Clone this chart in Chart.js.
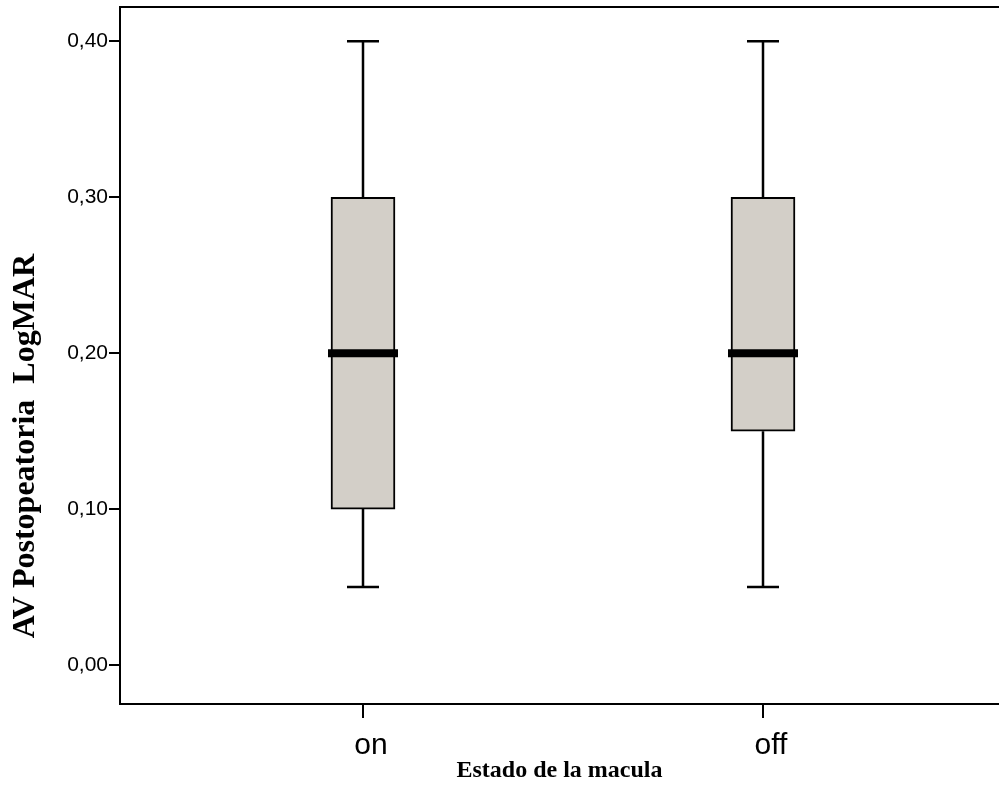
<!DOCTYPE html>
<html>
<head>
<meta charset="utf-8">
<script src="https://cdn.jsdelivr.net/npm/chart.js@4"></script>
<style>
  body { margin: 0; background: #fff; }
  #wrap { width: 999px; height: 793px; }
</style>
</head>
<body>
<div id="wrap"><canvas id="myChart" width="999" height="793"></canvas></div>
<script>
// box plot data
const categories = ['on', 'off'];
const mins = [0.05, 0.05];
const q1s = [0.10, 0.15];
const medians = [0.20, 0.20];
const q3s = [0.30, 0.30];
const maxs = [0.40, 0.40];
const yTicks = [0, 0.1, 0.2, 0.3, 0.4];
const yTitle = 'AV Postopeatoria  LogMAR';
const xTitle = 'Estado de la macula';

const boxes = categories.map((c, i) => ({ x: i, y: [q1s[i], q3s[i]] }));

// whiskers, caps and median lines, placed with the chart scales
const boxPlugin = {
  id: 'boxPlot',
  afterDatasetsDraw(chart) {
    const ctx = chart.ctx;
    const xs = chart.scales.x;
    const ys = chart.scales.y;
    const meta = chart.getDatasetMeta(0);
    ctx.save();
    ctx.strokeStyle = '#000';
    categories.forEach((c, i) => {
      const x = xs.getPixelForValue(i);
      const w = meta.data[i].width;
      ctx.lineWidth = 2.5;
      ctx.beginPath();
      ctx.moveTo(x, ys.getPixelForValue(q3s[i]));
      ctx.lineTo(x, ys.getPixelForValue(maxs[i]));
      ctx.moveTo(x, ys.getPixelForValue(q1s[i]));
      ctx.lineTo(x, ys.getPixelForValue(mins[i]));
      ctx.stroke();
      ctx.beginPath();
      [maxs[i], mins[i]].forEach(v => {
        const y = ys.getPixelForValue(v);
        ctx.moveTo(x - w / 4, y);
        ctx.lineTo(x + w / 4, y);
      });
      ctx.stroke();
      ctx.lineWidth = 8;
      ctx.beginPath();
      const ym = ys.getPixelForValue(medians[i]);
      ctx.moveTo(x - w / 2 - 3, ym);
      ctx.lineTo(x + w / 2 + 3, ym);
      ctx.stroke();
    });
    ctx.restore();
  },
  afterDraw(chart) {
    const ctx = chart.ctx;
    ctx.save();
    ctx.translate(34, 446);
    ctx.rotate(-Math.PI / 2);
    ctx.font = 'bold 32px "Liberation Serif"';
    ctx.fillStyle = '#000';
    ctx.textAlign = 'center';
    ctx.textBaseline = 'alphabetic';
    ctx.fillText(yTitle, 0, 0);
    ctx.restore();
  }
};

new Chart(document.getElementById('myChart'), {
  type: 'bar',
  data: {
    datasets: [{
      data: boxes,
      backgroundColor: '#d3cfc8',
      borderColor: '#000',
      borderWidth: 2,
      borderSkipped: false,
      barThickness: 64
    }]
  },
  options: {
    responsive: false,
    animation: false,
    layout: { padding: 0 },
    plugins: { legend: { display: false }, tooltip: { enabled: false } },
    scales: {
      x: {
        type: 'linear',
        position: 'bottom',
        offset: false,
        min: -0.6075,
        max: 1.59,
        afterBuildTicks: s => { s.ticks = categories.map((c, i) => ({ value: i })); },
        afterFit: s => { s.height = 89; s.paddingLeft = 0; s.paddingRight = 0; },
        ticks: {
          color: '#000',
          padding: 10,
          labelOffset: 8,
          autoSkip: false,
          maxRotation: 0,
          font: { family: '"Liberation Sans", Arial, sans-serif', size: 30 },
          callback: v => categories[v]
        },
        grid: { offset: false, drawOnChartArea: false, drawTicks: true, tickLength: 14, color: '#000', lineWidth: 2 },
        border: { display: true, color: '#000', width: 2 },
        title: {
          display: true,
          text: xTitle,
          color: '#000',
          padding: { top: 0, bottom: 8 },
          font: { family: '"Liberation Serif", "Times New Roman", serif', size: 24, weight: 'bold' }
        }
      },
      xTop: {
        type: 'linear',
        axis: 'x',
        position: 'top',
        afterFit: s => { s.height = 7; s.paddingLeft = 0; s.paddingRight = 0; },
        ticks: { display: false },
        grid: { display: false },
        border: { display: true, color: '#000', width: 2 }
      },
      y: {
        type: 'linear',
        min: -0.025,
        max: 0.422,
        afterBuildTicks: s => { s.ticks = yTicks.map(v => ({ value: v })); },
        afterFit: s => { s.width = 120; s.paddingTop = 0; s.paddingBottom = 0; },
        ticks: {
          color: '#000',
          padding: 1,
          font: { family: '"Liberation Sans", Arial, sans-serif', size: 21 },
          callback: v => v.toFixed(2).replace('.', ',')
        },
        grid: { drawOnChartArea: false, drawTicks: true, tickLength: 11, color: '#000', lineWidth: 2 },
        border: { display: true, color: '#000', width: 2 }
      }
    }
  },
  plugins: [boxPlugin]
});
</script>
</body>
</html>
